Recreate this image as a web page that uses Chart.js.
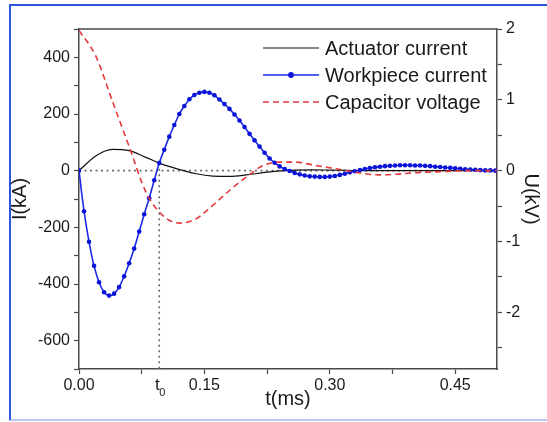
<!DOCTYPE html>
<html>
<head>
<meta charset="utf-8">
<script src="https://cdn.jsdelivr.net/npm/chart.js@4"></script>
<style>
  html, body { margin: 0; padding: 0; background: #fff; overflow: hidden; }
  #wrap { position: relative; width: 547px; height: 422px; }
  #frame {
    position: absolute; left: 9px; top: 4px; width: 560px; height: 413px;
    border-left: 2px solid #2a56d8; border-top: 2px solid #2a56d8; border-bottom: 2px solid #b9c9f2;
  }
  #chart { position: absolute; left: 0; top: 0; }
</style>
</head>
<body>
<div id="wrap">
  <div id="frame"></div>
  <canvas id="chart" width="547" height="422"></canvas>
</div>
<script>
// workpiece current, sampled every 0.006 ms (kA)
const timeFine = [
  0, 0.006, 0.012, 0.018, 0.024, 0.03, 0.036, 0.042, 0.048, 0.054,
  0.06, 0.066, 0.072, 0.078, 0.084, 0.09, 0.096, 0.102, 0.108, 0.114,
  0.12, 0.126, 0.132, 0.138, 0.144, 0.15, 0.156, 0.162, 0.168, 0.174,
  0.18, 0.186, 0.192, 0.198, 0.204, 0.21, 0.216, 0.222, 0.228, 0.234,
  0.24, 0.246, 0.252, 0.258, 0.264, 0.27, 0.276, 0.282, 0.288, 0.294,
  0.3, 0.306, 0.312, 0.318, 0.324, 0.33, 0.336, 0.342, 0.348, 0.354,
  0.36, 0.366, 0.372, 0.378, 0.384, 0.39, 0.396, 0.402, 0.408, 0.414,
  0.42, 0.426, 0.432, 0.438, 0.444, 0.45, 0.456, 0.462, 0.468, 0.474,
  0.48, 0.486, 0.492, 0.498
];
const workpieceCurrent = [
  0, -143, -251, -336, -394, -429, -441, -434, -411, -373,
  -327, -275, -215, -154, -97, -34, 27, 74, 120, 161,
  200, 228, 252, 267, 275, 278, 275, 266, 251, 235,
  218, 198, 177, 154, 130, 107, 85, 63, 43, 28,
  15, 6, -1, -8, -13, -17, -20, -21, -22, -22,
  -21, -19, -15, -11, -6, -2, 2, 6, 9, 12,
  14, 16, 17, 18, 19, 19, 19, 18, 18, 17,
  16, 14, 13, 11, 10, 8, 7, 5, 4, 3,
  2, 1, 1, 0
];

// actuator current (kA) and capacitor voltage (kV), every 0.02 ms
const timeCoarse = [
  0, 0.02, 0.04, 0.06, 0.08, 0.1, 0.12, 0.14, 0.16, 0.18, 0.2, 0.22, 0.24,
  0.26, 0.28, 0.3, 0.32, 0.34, 0.36, 0.38, 0.4, 0.42, 0.44, 0.46, 0.48, 0.5
];
const actuatorCurrent = [
  0, 52, 75, 71, 47, 22, 4, -11, -19, -20, -15, -7, -1,
  2, 3, 2, 1, 0, 0, 0, 0, 0, 0, 0, 0, 0
];
const capacitorVoltage = [
  1.98, 1.62, 0.98, 0.34, -0.3, -0.63, -0.74, -0.68, -0.49, -0.28, -0.09, 0.07, 0.12,
  0.12, 0.08, 0.04, 0, -0.04, -0.06, -0.05, -0.03, -0.02, -0.01, 0, 0, 0
];

// t0 marker: where workpiece and actuator currents meet
const t0 = 0.096;
const t0Current = 26;

// axes
const xTicks = [0, 0.075, 0.15, 0.225, 0.3, 0.375, 0.45];
const xLabels = ['0.00', '', '0.15', '', '0.30', '', '0.45'];
const currentTicks = [500, 400, 300, 200, 100, 0, -100, -200, -300, -400, -500, -600, -700];
const currentLabeled = [400, 200, 0, -200, -400, -600];
const voltageTicks = [2, 1.5, 1, 0.5, 0, -0.5, -1, -1.5, -2, -2.5];
const voltageLabeled = [2, 1, 0, -1, -2];

const FONT = '"Liberation Sans", Arial, sans-serif';
const AXIS = '#4a4a4a';
const TEXT = '#1a1a1a';

const pts = (xs, ys) => xs.map((x, i) => ({ x: x, y: ys[i] }));

// draws frame top, the t0 label and the legend
const decorations = {
  id: 'decorations',
  afterDraw(chart) {
    const ctx = chart.ctx;
    const a = chart.chartArea;
    ctx.save();
    ctx.strokeStyle = AXIS;
    ctx.lineWidth = 1.5;
    ctx.beginPath();
    ctx.moveTo(a.left, a.top);
    ctx.lineTo(a.right, a.top);
    ctx.stroke();

    // t0 label under the x axis
    const tx = chart.scales.x.getPixelForValue(t0);
    ctx.fillStyle = TEXT;
    ctx.textBaseline = 'alphabetic';
    ctx.textAlign = 'center';
    ctx.font = '17px ' + FONT;
    ctx.fillText('t', tx - 2, a.bottom + 21);
    ctx.font = '11px ' + FONT;
    ctx.fillText('0', tx + 3, a.bottom + 27);

    // legend
    const items = chart.data.datasets.filter(d => d.inLegend);
    items.forEach((ds, i) => {
      const y = 48 + i * 27;
      ctx.strokeStyle = ds.borderColor;
      ctx.lineWidth = ds.borderWidth;
      ctx.setLineDash(ds.borderDash || []);
      ctx.beginPath();
      ctx.moveTo(263, y);
      ctx.lineTo(319, y);
      ctx.stroke();
      ctx.setLineDash([]);
      if (ds.pointRadius > 0) {
        ctx.fillStyle = ds.pointBackgroundColor;
        ctx.beginPath();
        ctx.arc(291, y, ds.pointRadius + 0.6, 0, Math.PI * 2);
        ctx.fill();
      }
      ctx.fillStyle = TEXT;
      ctx.textAlign = 'left';
      ctx.textBaseline = 'middle';
      ctx.font = '20px ' + FONT;
      ctx.fillText(ds.label, 325, y + 1);
    });
    ctx.restore();
  }
};

const chart = new Chart(document.getElementById('chart'), {
  type: 'line',
  data: {
    datasets: [
      {
        label: 'Actuator current',
        inLegend: true,
        data: pts(timeCoarse, actuatorCurrent),
        yAxisID: 'y',
        borderColor: '#111111',
        borderWidth: 1.2,
        pointRadius: 0,
        cubicInterpolationMode: 'monotone',
        order: 2
      },
      {
        label: 'Workpiece current',
        inLegend: true,
        data: pts(timeFine, workpieceCurrent),
        yAxisID: 'y',
        borderColor: '#1a2ae6',
        borderWidth: 1.6,
        pointRadius: 2.3,
        pointBackgroundColor: '#0a14d8',
        pointBorderWidth: 0,
        tension: 0.3,
        order: 1
      },
      {
        label: 'Capacitor voltage',
        inLegend: true,
        data: pts(timeCoarse, capacitorVoltage),
        yAxisID: 'y1',
        borderColor: '#e4393c',
        borderWidth: 1.6,
        borderDash: [6, 4],
        pointRadius: 0,
        cubicInterpolationMode: 'monotone',
        order: 0
      },
      {
        label: 'zero',
        data: [{ x: 0, y: 0 }, { x: 0.5, y: 0 }],
        yAxisID: 'y',
        borderColor: '#6a6a6a',
        borderWidth: 1.6,
        borderDash: [2, 3.5],
        pointRadius: 0,
        order: 5
      },
      {
        label: 't0',
        data: [{ x: t0, y: t0Current }, { x: t0, y: -700 }],
        yAxisID: 'y',
        borderColor: '#6a6a6a',
        borderWidth: 1.6,
        borderDash: [2, 3.5],
        pointRadius: 0,
        order: 5
      }
    ]
  },
  options: {
    responsive: false,
    animation: false,
    devicePixelRatio: 1,
    layout: { padding: { top: 29, left: 0, right: 0, bottom: 0 } },
    plugins: {
      legend: { display: false },
      tooltip: { enabled: false }
    },
    scales: {
      x: {
        type: 'linear',
        min: 0,
        max: 0.5,
        afterBuildTicks: s => { s.ticks = xTicks.map(v => ({ value: v })); },
        afterFit: s => { s.height = 53; },
        ticks: {
          autoSkip: false,
          maxRotation: 0,
          padding: 2,
          color: TEXT,
          font: { family: FONT, size: 16 },
          callback: (v, i) => xLabels[i]
        },
        grid: { drawOnChartArea: false, tickLength: 5, tickColor: AXIS, tickWidth: 1.2 },
        border: { color: AXIS, width: 1.5 },
        title: {
          display: true,
          text: 't(ms)',
          color: TEXT,
          font: { family: FONT, size: 20 },
          padding: { top: 0, bottom: 11 }
        }
      },
      y: {
        position: 'left',
        min: -700,
        max: 500,
        afterBuildTicks: s => { s.ticks = currentTicks.map(v => ({ value: v })); },
        afterFit: s => { s.width = 79; },
        ticks: {
          autoSkip: false,
          padding: 4,
          color: TEXT,
          font: { family: FONT, size: 16 },
          callback: v => currentLabeled.includes(v) ? String(v) : ''
        },
        grid: { drawOnChartArea: false, tickLength: 5, tickColor: AXIS, tickWidth: 1.2 },
        border: { color: AXIS, width: 1.5 },
        title: {
          display: true,
          text: 'I(kA)',
          color: TEXT,
          font: { family: FONT, size: 20 },
          padding: { top: 8, bottom: 0 }
        }
      },
      y1: {
        position: 'right',
        min: -2.8,
        max: 2,
        afterBuildTicks: s => { s.ticks = voltageTicks.map(v => ({ value: v })); },
        afterFit: s => { s.width = 50; },
        ticks: {
          autoSkip: false,
          padding: 4,
          color: TEXT,
          font: { family: FONT, size: 16 },
          callback: v => voltageLabeled.includes(v) ? String(v) : ''
        },
        grid: { drawOnChartArea: false, tickLength: 5, tickColor: AXIS, tickWidth: 1.2 },
        border: { color: AXIS, width: 1.5 },
        title: {
          display: true,
          text: 'U(kV)',
          color: TEXT,
          font: { family: FONT, size: 20 },
          padding: { top: 4, bottom: 0 }
        }
      }
    }
  },
  plugins: [decorations]
});
</script>
</body>
</html>
